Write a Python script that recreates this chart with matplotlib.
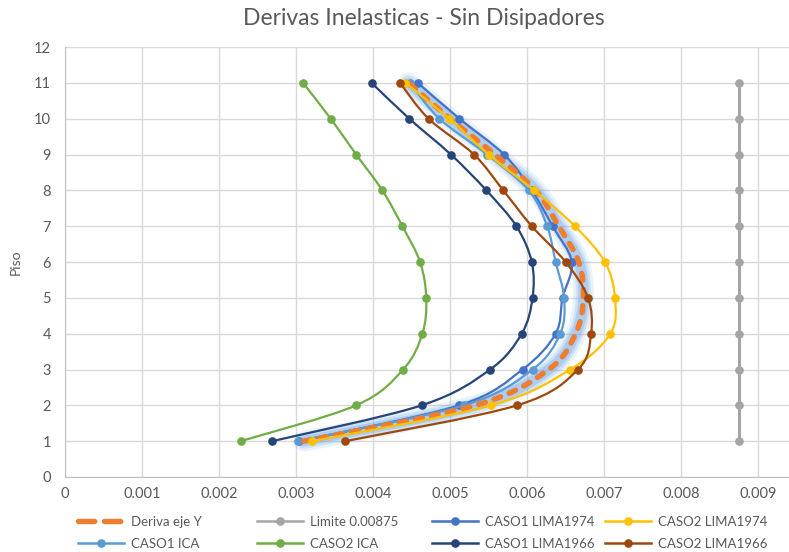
import numpy as np
import matplotlib
matplotlib.use("Agg")
import matplotlib.pyplot as plt
from matplotlib.path import Path
from matplotlib.patches import PathPatch
from matplotlib.lines import Line2D

plt.rcParams['font.family'] = ['Lato', 'DejaVu Sans']

# floors and drift values
pisos = [1, 2, 3, 4, 5, 6, 7, 8, 9, 10, 11]
deriva_eje_y = [0.00310, 0.00533, 0.00628, 0.00663, 0.00673, 0.00667, 0.00641, 0.00611, 0.00558, 0.00500, 0.00446]
limite = [0.00875] * 11
caso1_lima1974 = [0.00304, 0.00512, 0.00594, 0.00637, 0.00646, 0.00658, 0.00633, 0.00606, 0.00570, 0.00512, 0.00458]
caso2_lima1974 = [0.00321, 0.00553, 0.00656, 0.00708, 0.00714, 0.00701, 0.00662, 0.00609, 0.00550, 0.00499, 0.00442]
caso1_ica = [0.00302, 0.00518, 0.00607, 0.00643, 0.00648, 0.00637, 0.00626, 0.00602, 0.00548, 0.00486, 0.00448]
caso2_ica = [0.00228, 0.00378, 0.00439, 0.00464, 0.00469, 0.00461, 0.00438, 0.00412, 0.00378, 0.00345, 0.00309]
caso1_lima1966 = [0.00269, 0.00463, 0.00552, 0.00593, 0.00607, 0.00606, 0.00586, 0.00547, 0.00501, 0.00447, 0.00398]
caso2_lima1966 = [0.00364, 0.00587, 0.00666, 0.00683, 0.00679, 0.00650, 0.00606, 0.00569, 0.00531, 0.00472, 0.00435]

x_ticks = [0, 0.001, 0.002, 0.003, 0.004, 0.005, 0.006, 0.007, 0.008, 0.009]
x_tick_labels = ['0', '0.001', '0.002', '0.003', '0.004', '0.005', '0.006', '0.007', '0.008', '0.009']

LW = 1.6
MS = 5.2
TXT = '#595959'


def smooth_path(x, y):
    """Excel-like smoothed line: Catmull-Rom through the points as cubic beziers"""
    pts = np.column_stack([x, y]).astype(float)
    n = len(pts)
    verts = [pts[0]]
    codes = [Path.MOVETO]
    for i in range(n - 1):
        p0 = pts[max(i - 1, 0)]
        p1 = pts[i]
        p2 = pts[i + 1]
        p3 = pts[min(i + 2, n - 1)]
        verts += [p1 + (p2 - p0) / 6, p2 - (p3 - p1) / 6, p2]
        codes += [Path.CURVE4] * 3
    return Path(verts, codes)


def add_series(ax, x, y, color, z, smooth=True):
    if smooth:
        patch = PathPatch(smooth_path(x, y), fill=False, edgecolor=color, lw=LW, zorder=z)
        ax.add_patch(patch)
    else:
        ax.plot(x, y, color=color, lw=LW + 0.6, zorder=z)
    ax.plot(x, y, linestyle='none', marker='o', ms=MS, color=color, zorder=z + 0.01)


fig = plt.figure(figsize=(7.89, 5.52), dpi=100)
ax = fig.add_axes([65 / 789, 75 / 552, 1 - 65 / 789, 430 / 552])

# glow under the "Deriva eje Y" curve
glow = smooth_path(deriva_eje_y, pisos)
for w, a in [(15, 0.15), (11, 0.22), (7.5, 0.35)]:
    g = PathPatch(glow, fill=False, edgecolor='#6FA8E8', lw=w, alpha=a, zorder=2.5)
    g.set_capstyle('round')
    g.set_joinstyle('round')
    ax.add_patch(g)

add_series(ax, caso1_lima1974, pisos, '#4472C4', 2.6)
add_series(ax, caso1_ica, pisos, '#5B9BD5', 2.7)

dash = PathPatch(glow, fill=False, edgecolor='#ED7D31', lw=3.9, linestyle=(0, (1.3, 1.7)), zorder=3)
dash.set_capstyle('round')
ax.add_patch(dash)

add_series(ax, limite, pisos, '#A5A5A5', 4, smooth=False)
add_series(ax, caso2_lima1974, pisos, '#FFC000', 4.1)
add_series(ax, caso2_ica, pisos, '#70AD47', 4.2)
add_series(ax, caso1_lima1966, pisos, '#264478', 4.3)
add_series(ax, caso2_lima1966, pisos, '#9E480E', 4.4)

ax.set_xlim(0, 0.0094)
ax.set_ylim(0, 12)
ax.set_xticks(x_ticks)
ax.set_xticklabels(x_tick_labels)
ax.set_yticks(range(0, 13))
ax.grid(True, color='#D9D9D9', lw=1.0)
ax.set_axisbelow(True)
for s in ['top', 'right']:
    ax.spines[s].set_visible(False)
for s in ['left', 'bottom']:
    ax.spines[s].set_color('#BFBFBF')
ax.tick_params(length=0, labelsize=10.5, colors=TXT)
ax.tick_params(axis='y', pad=10)
ax.tick_params(axis='x', pad=7)
ax.set_ylabel('Piso', fontsize=10, color=TXT, labelpad=9)

fig.text(0.537, 0.967, 'Derivas Inelasticas - Sin Disipadores', ha='center', va='center',
         fontsize=16.5, color=TXT)


def handle(color, dashed=False):
    if dashed:
        return Line2D([], [], color=color, lw=3.9, linestyle=(0, (3.0, 1.8)), dash_capstyle='round')
    return Line2D([], [], color=color, lw=LW + 0.2, marker='o', ms=MS)


columns = [
    (78, [handle('#ED7D31', True), handle('#5B9BD5')], ['Deriva eje Y', 'CASO1 ICA']),
    (257, [handle('#A5A5A5'), handle('#70AD47')], ['Limite 0.00875', 'CASO2 ICA']),
    (432, [handle('#4472C4'), handle('#264478')], ['CASO1 LIMA1974', 'CASO1 LIMA1966']),
    (605, [handle('#FFC000'), handle('#9E480E')], ['CASO2 LIMA1974', 'CASO2 LIMA1966']),
]
for xpix, hs, ls in columns:
    fig.legend(hs, ls, loc='upper left', bbox_to_anchor=(xpix / 789, (552 - 516) / 552),
               frameon=False, fontsize=9.5, handlelength=3.5, handletextpad=0.55,
               borderpad=0, borderaxespad=0, labelspacing=0.75, labelcolor=TXT)

fig.savefig('out.png', dpi=100)
